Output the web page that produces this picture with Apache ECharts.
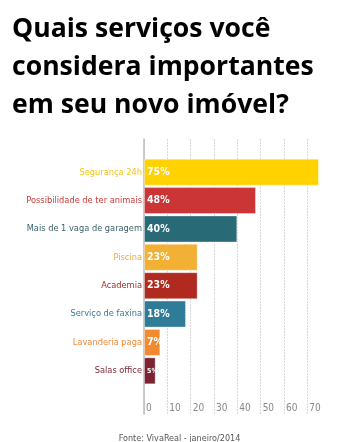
<!DOCTYPE html>
<html><head><meta charset="utf-8">
<script src="https://cdn.jsdelivr.net/npm/echarts@6/dist/echarts.min.js"></script>
<style>html,body{margin:0;padding:0;background:#fff}#c{width:359px;height:442px}</style>
</head><body><div id="c"></div>
<script>
const categories = ["Segurança 24h","Possibilidade de ter animais","Mais de 1 vaga de garagem","Piscina","Academia","Serviço de faxina","Lavanderia paga","Salas office"];
const values = [75,48,40,23,23,18,7,5];
const colors = ["#FFD200","#CC3535","#286A76","#F2B035","#B02A20","#2E7C98","#F28A30","#7C2233"];
const labelColors = ["#F5C518","#C83A3A","#3A5F6A","#F0A832","#A0302A","#3A7A95","#F08A3A","#7A2A35"];
const xTicks = [0,10,20,30,40,50,60,70];
const titleText = "Quais serviços você\nconsidera importantes\nem seu novo imóvel?";
const sourceText = "Fonte: VivaReal - janeiro/2014";

const chart = echarts.init(document.getElementById('c'), null, {renderer:'canvas'});
const condensed = "'Liberation Sans Narrow','DejaVu Sans Condensed',sans-serif";
const pxPerUnit = 163.3/70;
chart.setOption({
  animation:false,
  title:[
    {text:titleText,left:7,top:5,textStyle:{fontFamily:"'Open Sans',sans-serif",fontWeight:'bold',fontSize:26.6,lineHeight:38,color:'#000'}},
    {text:sourceText,left:'center',top:429,textStyle:{fontFamily:condensed,fontWeight:'normal',fontSize:9,color:'#555'}}
  ],
  grid:[
    {left:144,top:158,height:227,width:75*pxPerUnit},
    {left:144,top:139,bottom:28,width:70*pxPerUnit}
  ],
  xAxis:[
    {gridIndex:0,type:'value',min:0,max:75,show:false},
    {gridIndex:1,type:'value',min:0,max:xTicks[xTicks.length-1],interval:10,position:'bottom',
     axisLine:{show:false},axisTick:{show:false},
     splitLine:{show:true,lineStyle:{color:'#d8d8d8',type:[2,1],width:1}},
     axisLabel:{inside:true,margin:1,align:'left',padding:[0,0,0,2],fontFamily:condensed,fontSize:10,color:'#888',
       formatter:v=>xTicks.includes(v)?String(v):''}}
  ],
  yAxis:[
    {gridIndex:0,type:'category',data:categories,inverse:true,
     axisLine:{show:false},axisTick:{show:false},
     axisLabel:{margin:2,fontFamily:condensed,fontSize:9.2,color:(v,i)=>labelColors[i]}},
    {gridIndex:1,type:'value',min:0,max:1,axisLabel:{show:false},splitLine:{show:false},axisTick:{show:false},
     axisLine:{show:true,lineStyle:{color:'#bbb',width:1.5}}}
  ],
  series:[{
    type:'bar',xAxisIndex:0,yAxisIndex:0,barWidth:27,
    data:values.map((v,i)=>({value:v,itemStyle:{color:colors[i]},
      label:v<6?{fontSize:7}:undefined})),
    itemStyle:{borderColor:'rgba(255,255,255,0.35)',borderWidth:1},
    label:{show:true,position:'insideLeft',offset:[-2,0],formatter:'{c}%',color:'#fff',fontWeight:'bold',fontFamily:condensed,fontSize:10.5}
  }]
});
</script></body></html>
